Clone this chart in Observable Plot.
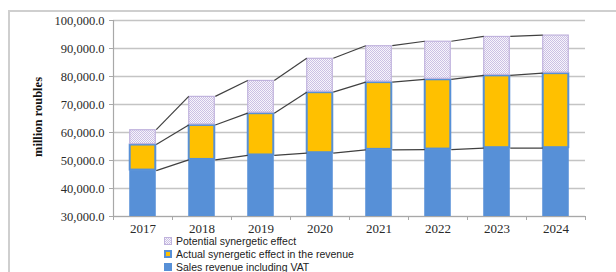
<!DOCTYPE html>
<html>
<head>
<meta charset="utf-8">
<script src="https://cdn.jsdelivr.net/npm/d3@7"></script>
<script src="https://cdn.jsdelivr.net/npm/@observablehq/plot@0.6"></script>
<style>
  html, body { margin: 0; padding: 0; background: #fff; }
  #wrap { position: relative; width: 616px; height: 272px; overflow: hidden; }
  #frame { position: absolute; left: 8px; top: 10px; width: 620px; height: 300px;
           border-left: 2px solid #cfcfcf; border-top: 2px solid #cfcfcf; }
  #ylabel { position: absolute; left: 38px; top: 117px; transform: translate(-50%, -50%) rotate(-90deg);
            font: bold 12.5px "Liberation Serif", "Times New Roman", serif; color: #111; white-space: nowrap; }
  #legend { position: absolute; left: 164px; top: 234px; font: 10.5px "Liberation Sans", Arial, sans-serif; color: #222; }
  .row { display: flex; align-items: center; height: 13px; }
  .sw { width: 8px; height: 8px; margin-right: 4px; box-sizing: border-box; }
  svg { position: absolute; left: 0; top: 0; }
</style>
</head>
<body>
<div id="wrap">
  <div id="frame"></div>
  <div id="chart"></div>
  <div id="ylabel">million roubles</div>
  <div id="legend"></div>
</div>
<script>
const years = [2017, 2018, 2019, 2020, 2021, 2022, 2023, 2024];
const salesRevenue = [46400, 50200, 51800, 52600, 53800, 53900, 54400, 54400];
const actualEffect = [9300, 12500, 15100, 21800, 24200, 25100, 26000, 26800];
const potentialEffect = [5300, 10200, 11700, 12100, 13000, 13600, 13900, 13600];
const yTicks = [30000, 40000, 50000, 60000, 70000, 80000, 90000, 100000];
const seriesNames = ["Potential synergetic effect", "Actual synergetic effect in the revenue", "Sales revenue including VAT"];

const BLUE = "#5790d7", YELLOW = "#ffc000", PURPLE = "#c0b3dd", LINE = "#404040";
const hw = 0.225; // half bar width in category units

const rows = years.map((y, i) => {
  const s = salesRevenue[i], a = s + actualEffect[i], p = a + potentialEffect[i];
  return {year: y, sales: s, actualTop: a, potTop: p};
});
const segs = [];
for (let i = 0; i < rows.length - 1; i++) {
  for (const key of ["sales", "actualTop", "potTop"]) {
    segs.push({x1: rows[i].year + hw, x2: rows[i + 1].year - hw, y1: rows[i][key], y2: rows[i + 1][key]});
  }
}
const bounds = d3.range(years.length + 1).map(i => years[0] - 0.5 + i);

const chart = Plot.plot({
  width: 616, height: 272,
  marginLeft: 113, marginRight: 31, marginTop: 20, marginBottom: 56,
  style: {fontFamily: "'Liberation Serif', 'Times New Roman', serif", fontSize: "12.5px", color: "#2a2a2a", background: "transparent"},
  x: {type: "linear", domain: [years[0] - 0.5, years[years.length - 1] + 0.5]},
  y: {domain: [30000, 100000]},
  marks: [
    Plot.ruleY(yTicks, {stroke: "#c4c4c4", strokeWidth: 1.5}),
    Plot.rect(rows, {x1: d => d.year - hw, x2: d => d.year + hw, y1: 0, y2: "sales", fill: BLUE, clip: true}),
    Plot.rect(rows, {x1: d => d.year - hw, x2: d => d.year + hw, y1: "sales", y2: "actualTop", fill: YELLOW, stroke: BLUE, strokeWidth: 2, inset: 0.5}),
    Plot.rect(rows, {x1: d => d.year - hw, x2: d => d.year + hw, y1: "actualTop", y2: "potTop", fill: "url(#dots)", stroke: PURPLE, strokeWidth: 1.2, inset: 0.5}),
    Plot.link(segs, {x1: "x1", x2: "x2", y1: "y1", y2: "y2", stroke: LINE, strokeWidth: 1.2}),
    Plot.ruleX([years[0] - 0.5], {stroke: "#a8a8a8", strokeWidth: 1.2}),
    Plot.ruleY([30000], {stroke: "#a8a8a8", strokeWidth: 1.2}),
    Plot.axisY({ticks: yTicks, tickFormat: d3.format(",.1f"), tickSize: 4, tickPadding: 5, stroke: "#a8a8a8", label: null, fill: "#2a2a2a"}),
    Plot.axisX({ticks: bounds, tickFormat: () => "", tickSize: 4, stroke: "#a8a8a8", label: null}),
    Plot.axisX({ticks: years, tickFormat: d => String(d), tickSize: 0, tickPadding: 7, label: null, fill: "#2a2a2a", fontSize: 13})
  ]
});

const defs = `<defs><pattern id="dots" width="2" height="2" patternUnits="userSpaceOnUse">
<rect width="2" height="2" fill="#f7f5fb"/>
<rect x="0" y="0" width="1" height="1" fill="#cbc0e4"/>
<rect x="1" y="1" width="1" height="1" fill="#cbc0e4"/>
</pattern></defs>`;
chart.insertAdjacentHTML("afterbegin", defs);
document.getElementById("chart").appendChild(chart);

const swatches = [
  "background: repeating-conic-gradient(#cbc0e4 0 25%, #f7f5fb 0 50%) 0 0/2px 2px; border: 1px solid " + PURPLE + ";",
  "background: " + YELLOW + "; border: 2px solid " + BLUE + ";",
  "background: " + BLUE + ";"
];
const legend = document.getElementById("legend");
seriesNames.forEach((name, i) => {
  const r = document.createElement("div");
  r.className = "row";
  r.innerHTML = `<div class="sw" style="${swatches[i]}"></div><span>${name}</span>`;
  legend.appendChild(r);
});
</script>
</body>
</html>
